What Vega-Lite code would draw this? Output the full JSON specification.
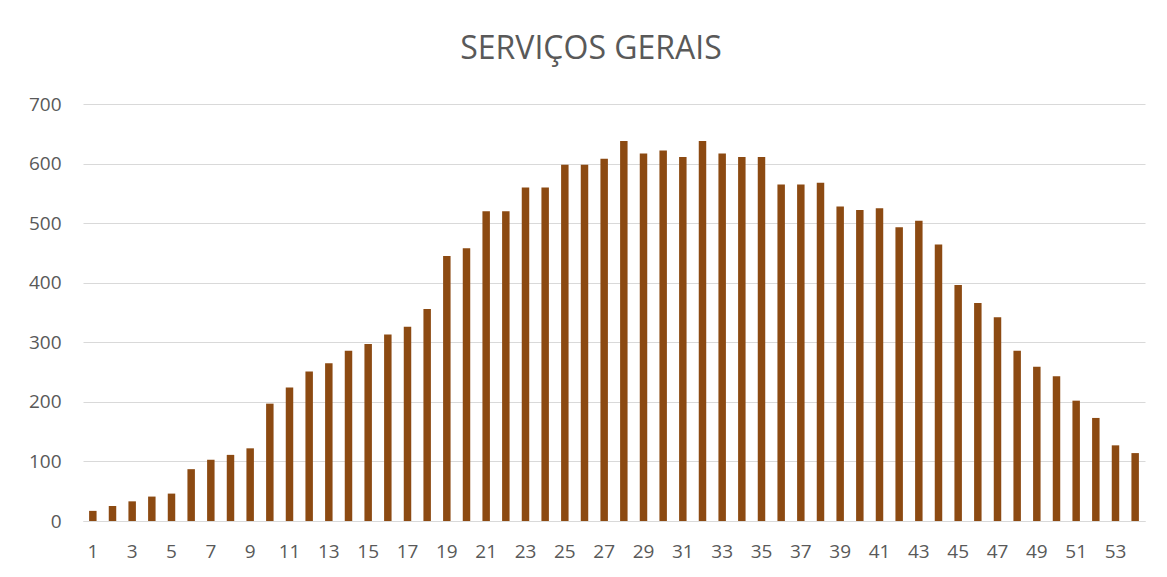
{
  "$schema": "https://vega.github.io/schema/vega-lite/v6.json",
  "width": 1062,
  "height": 417,
  "autosize": {"type": "none"},
  "padding": {"left": 83, "top": 104, "right": 22, "bottom": 56},
  "background": "white",
  "title": {
    "text": "SERVIÇOS GERAIS",
    "font": "Open Sans",
    "fontSize": 32,
    "fontWeight": "normal",
    "color": "#595959",
    "anchor": "middle",
    "frame": "group",
    "dx": -23,
    "baseline": "alphabetic",
    "offset": 4
  },
  "data": {
    "values": [
      {"semana": 1, "valor": 17}, {"semana": 2, "valor": 25}, {"semana": 3, "valor": 33},
      {"semana": 4, "valor": 41}, {"semana": 5, "valor": 46}, {"semana": 6, "valor": 87},
      {"semana": 7, "valor": 103}, {"semana": 8, "valor": 111}, {"semana": 9, "valor": 122},
      {"semana": 10, "valor": 197}, {"semana": 11, "valor": 224}, {"semana": 12, "valor": 251},
      {"semana": 13, "valor": 265}, {"semana": 14, "valor": 286}, {"semana": 15, "valor": 297},
      {"semana": 16, "valor": 313}, {"semana": 17, "valor": 326}, {"semana": 18, "valor": 356},
      {"semana": 19, "valor": 445}, {"semana": 20, "valor": 458}, {"semana": 21, "valor": 520},
      {"semana": 22, "valor": 520}, {"semana": 23, "valor": 560}, {"semana": 24, "valor": 560},
      {"semana": 25, "valor": 598}, {"semana": 26, "valor": 598}, {"semana": 27, "valor": 608},
      {"semana": 28, "valor": 638}, {"semana": 29, "valor": 617}, {"semana": 30, "valor": 622},
      {"semana": 31, "valor": 611}, {"semana": 32, "valor": 638}, {"semana": 33, "valor": 617},
      {"semana": 34, "valor": 611}, {"semana": 35, "valor": 611}, {"semana": 36, "valor": 565},
      {"semana": 37, "valor": 565}, {"semana": 38, "valor": 568}, {"semana": 39, "valor": 528},
      {"semana": 40, "valor": 522}, {"semana": 41, "valor": 525}, {"semana": 42, "valor": 493},
      {"semana": 43, "valor": 504}, {"semana": 44, "valor": 464}, {"semana": 45, "valor": 396},
      {"semana": 46, "valor": 366}, {"semana": 47, "valor": 342}, {"semana": 48, "valor": 286},
      {"semana": 49, "valor": 259}, {"semana": 50, "valor": 243}, {"semana": 51, "valor": 202},
      {"semana": 52, "valor": 173}, {"semana": 53, "valor": 127}, {"semana": 54, "valor": 114}
    ]
  },
  "mark": {"type": "bar", "color": "#8C4A12"},
  "encoding": {
    "x": {
      "field": "semana",
      "type": "ordinal",
      "sort": "ascending",
      "scale": {"paddingInner": 0.62, "paddingOuter": 0.31},
      "axis": {
        "title": null,
        "labelAngle": 0,
        "values": [1,3,5,7,9,11,13,15,17,19,21,23,25,27,29,31,33,35,37,39,41,43,45,47,49,51,53],
        "ticks": false,
        "domain": true,
        "domainColor": "#d9d9d9",
        "domainWidth": 1,
        "labelFont": "Open Sans",
        "labelFontSize": 19,
        "labelColor": "#595959",
        "labelPadding": 21,
        "grid": false
      }
    },
    "y": {
      "field": "valor",
      "type": "quantitative",
      "scale": {"domain": [0, 700], "nice": false},
      "axis": {
        "title": null,
        "values": [0, 100, 200, 300, 400, 500, 600, 700],
        "ticks": false,
        "domain": false,
        "grid": true,
        "gridColor": "#d9d9d9",
        "gridWidth": 1,
        "labelFont": "Open Sans",
        "labelFontSize": 19,
        "labelColor": "#595959",
        "labelPadding": 22
      }
    }
  },
  "config": {
    "view": {"stroke": null}
  }
}
